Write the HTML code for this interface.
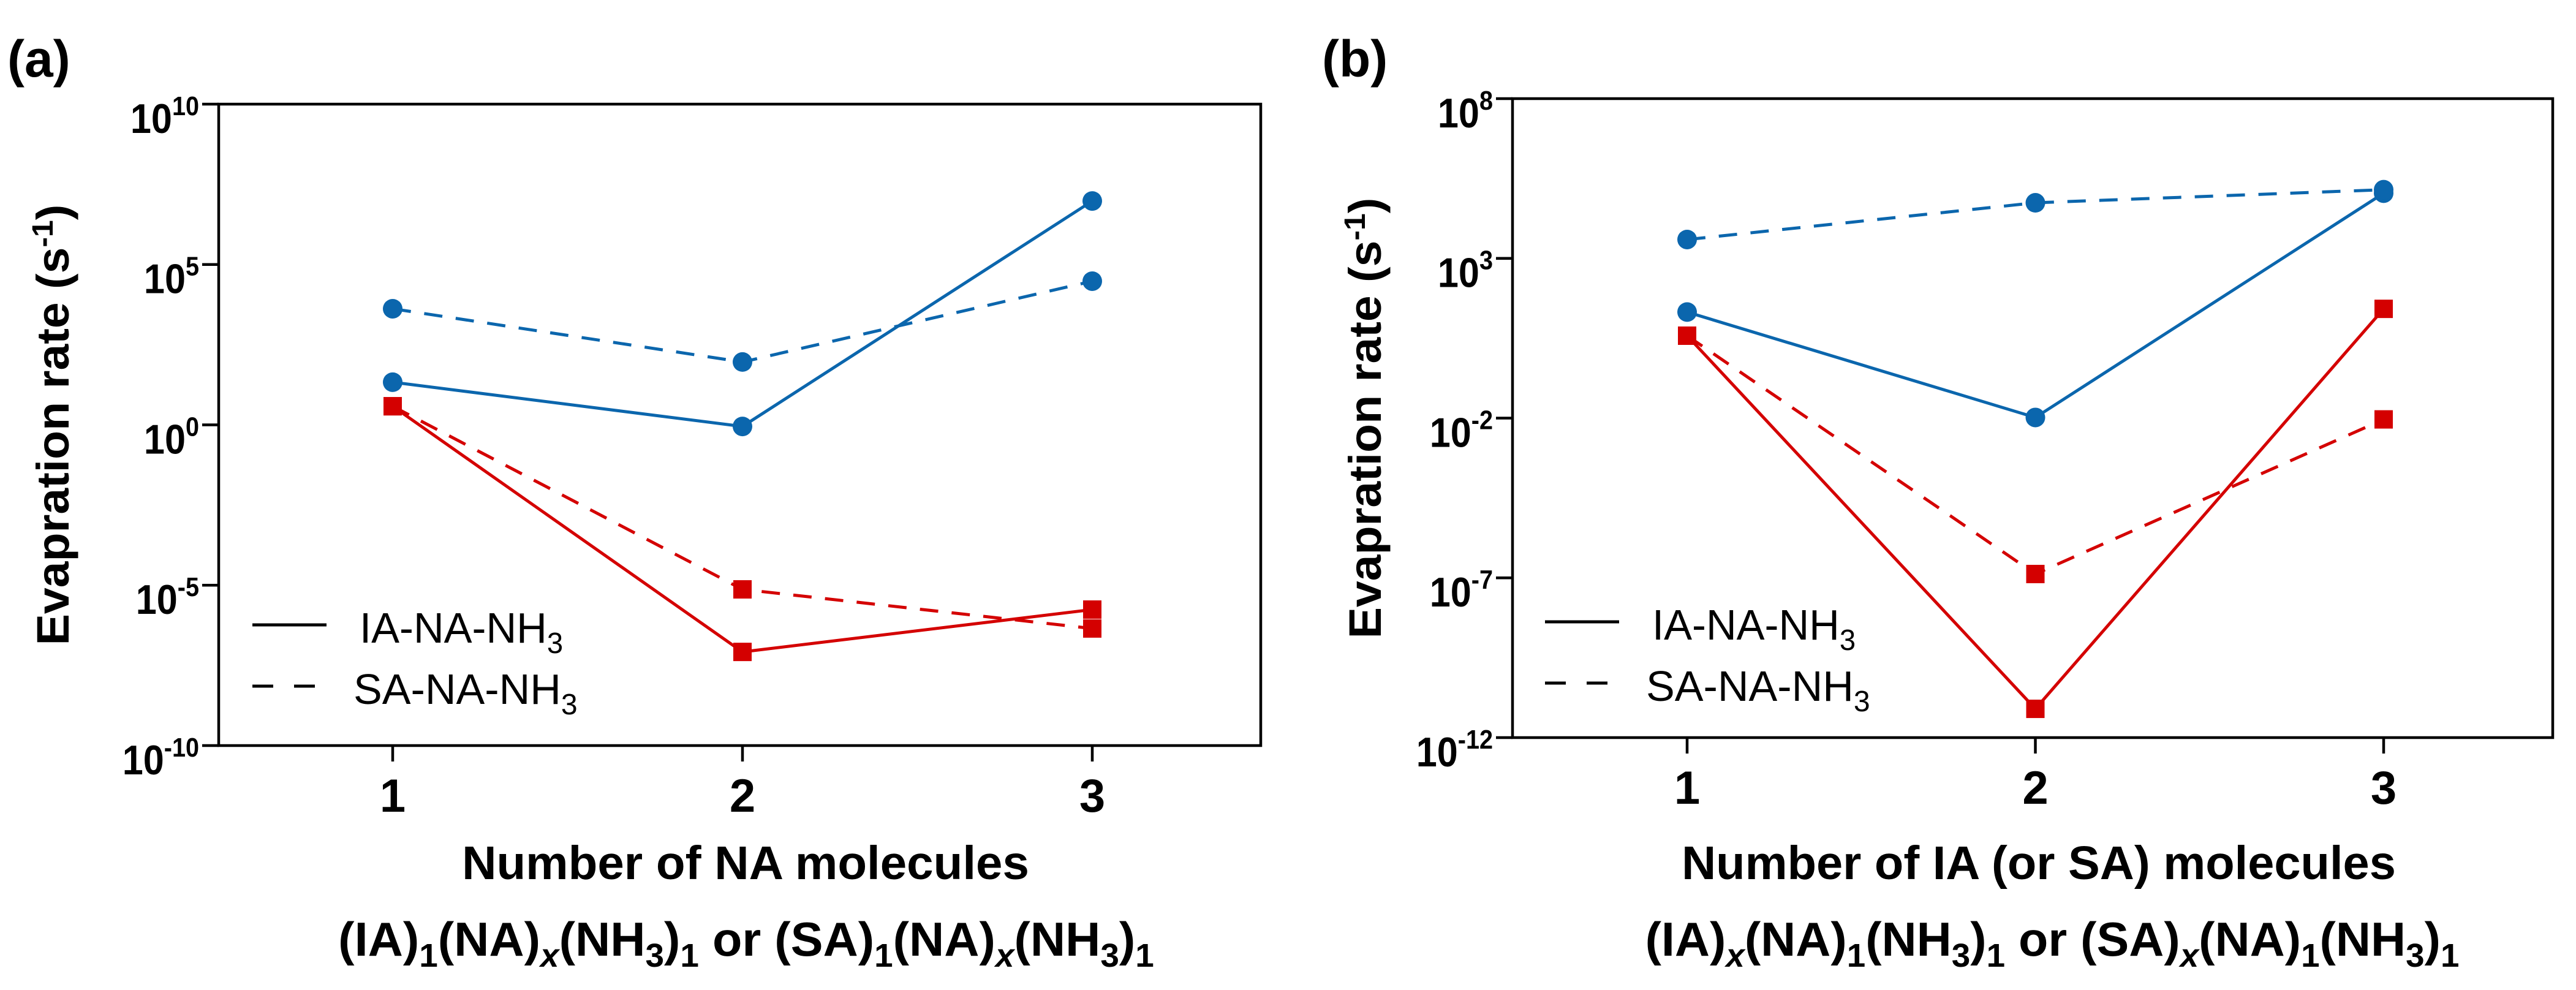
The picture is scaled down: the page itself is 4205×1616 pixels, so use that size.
<!DOCTYPE html>
<html><head><meta charset="utf-8"><style>
html,body{margin:0;padding:0;background:#fff;}
svg{display:block;font-family:"Liberation Sans",Arial,sans-serif;}
</style></head><body>
<svg id="fig" width="4205" height="1616" viewBox="0 0 4205 1616" xmlns="http://www.w3.org/2000/svg"></svg>
<script>
// ---- data ----
const categories = [1, 2, 3];
const aIA_NA = [1.33, -0.05, 6.98];      // log10 values, panel a blue solid
const aSA_NA = [3.62, 1.96, 4.48];       // panel a blue dashed
const aIA_NH3 = [0.58, -7.08, -5.76];    // panel a red solid
const aSA_NH3 = [0.58, -5.13, -6.35];    // panel a red dashed
const bIA_NA = [1.32, -1.98, 5.04];
const bSA_NA = [3.59, 4.74, 5.15];
const bIA_NH3 = [0.58, -11.1, 1.42];
const bSA_NH3 = [0.58, -6.88, -2.04];
const aTicks = [10, 5, 0, -5, -10];
const bTicks = [8, 3, -2, -7, -12];

const NS = "http://www.w3.org/2000/svg";
const svg = document.getElementById('fig');
function el(tag, attrs, parent, text) {
  const e = document.createElementNS(NS, tag);
  for (const k in attrs) e.setAttribute(k, attrs[k]);
  if (text !== undefined) e.textContent = text;
  (parent || svg).appendChild(e);
  return e;
}
// horizontally fit a text element to a target width centred/anchored at ax
function fitX(t, target, ax) {
  const w = t.getBBox().width;
  if (!w) return;
  const s = target / w;
  const prev = t.getAttribute('transform') || '';
  t.setAttribute('transform', `translate(${ax},0) scale(${s},1) translate(${-ax},0) ` + prev);
}
function fitY(t, target, ay) {
  const h = t.getBBox().width;
  if (!h) return;
  const s = target / h;
  const prev = t.getAttribute('transform') || '';
  t.setAttribute('transform', `translate(0,${ay}) scale(1,${s}) translate(0,${-ay}) ` + prev);
}
const BLUE = "#0b66ad", RED = "#d40000";

function panel(cfg) {
  const g = el('g', {});
  
  
  const xs = v => cfg.x1 + (v - 1) * cfg.dx;
  const ys = v => cfg.top + (cfg.ymax - v) * (cfg.bottom - cfg.top) / (cfg.ymax - cfg.ymin);
  const fr = el('rect', {x: cfg.left, y: cfg.top, width: cfg.right - cfg.left, height: cfg.bottom - cfg.top, fill: 'none', stroke: '#000', 'stroke-width': 4.5}, g);
  
  
  cfg.ticks.forEach(t => {
    const y = ys(t);
    el('line', {x1: cfg.left - 27, x2: cfg.left, y1: y, y2: y, stroke: '#000', 'stroke-width': 4.5}, g);
    const tx = el('text', {x: cfg.left - 32, y: y + 47, 'text-anchor': 'end', 'font-size': 68, 'font-weight': 'bold'}, g);
    
    
    el('tspan', {}, tx, '10');
    el('tspan', {dy: -29, 'font-size': 44}, tx, String(t));
    fitX(tx, tx.getBBox().width * 0.9, cfg.left - 32);
  });
  categories.forEach(c => {
    const x = xs(c);
    el('line', {x1: x, x2: x, y1: cfg.bottom, y2: cfg.bottom + 26, stroke: '#000', 'stroke-width': 4.5}, g);
    const tx = el('text', {x: x, y: cfg.bottom + 108, 'text-anchor': 'middle', 'font-size': 76, 'font-weight': 'bold'}, g, String(c));
    
    
  });
  cfg.series.forEach(s => {
    const pts = categories.map((c, i) => xs(c) + ',' + ys(s.vals[i])).join(' ');
    const pl = el('polyline', {points: pts, fill: 'none', stroke: s.color, 'stroke-width': 5, 'stroke-dasharray': s.dash ? '30,22' : 'none'}, g);
    
    
    categories.forEach((c, i) => {
      const x = xs(c), y = ys(s.vals[i]);
      let m;
      if (s.marker === 'circle') m = el('circle', {cx: x, cy: y, r: 16, fill: s.color}, g);
      else m = el('rect', {x: x - 15, y: y - 15, width: 30, height: 30, fill: s.color}, g);
      
      
    });
  });
  const lg = el('g', {}, g);
  
  
  [['IA-NA-NH', false, cfg.legY, 175, 306], ['SA-NA-NH', true, cfg.legY + 100, 165, 339]].forEach(([lab, dash, y, off, wid]) => {
    el('line', {x1: cfg.legX, x2: cfg.legX + 121, y1: y, y2: y, stroke: '#000', 'stroke-width': 5, 'stroke-dasharray': dash ? '34,34' : 'none'}, lg);
    const t = el('text', {x: cfg.legX + off, y: y + 29, 'font-size': 70}, lg);
    
    
    el('tspan', {}, t, lab);
    const w0 = t.getBBox().width;
    el('tspan', {dy: 17, 'font-size': 48}, t, '3');
    const s = wid / w0;
    const ax = cfg.legX + off;
    t.setAttribute('transform', `translate(${ax},0) scale(${s},1) translate(${-ax},0)`);
  });
  const pl = el('text', {x: cfg.labX, y: 125, 'font-size': 84, 'font-weight': 'bold'}, g, cfg.label);
  
  
  const cy = (cfg.top + cfg.bottom) / 2;
  const yt = el('text', {x: 0, y: 0, transform: `translate(${cfg.ytX},${cy}) rotate(-90)`, 'text-anchor': 'middle', 'font-size': 74, 'font-weight': 'bold'}, g);
  
  
  el('tspan', {}, yt, 'Evapration rate (s');
  el('tspan', {dy: -26, 'font-size': 48}, yt, '-1');
  el('tspan', {dy: 26}, yt, ')');
  {
    const len = yt.getBBox().width;
    const s = cfg.ytLen / len;
    yt.setAttribute('transform', `translate(${cfg.ytX},${cy}) rotate(-90) scale(${s},1)`);
  }
  const xt = el('text', {x: cfg.xtC, y: 1435, 'text-anchor': 'middle', 'font-size': 77, 'font-weight': 'bold'}, g, cfg.xtitle);
  
  
  fitX(xt, cfg.xtW, cfg.xtC);
  const ft = el('text', {x: cfg.fC, y: 1560, 'text-anchor': 'middle', 'font-size': 78, 'font-weight': 'bold'}, g);
  
  
  let down = false;
  cfg.formula.forEach(([txt, kind]) => {
    const sub = kind === 'sub' || kind === 'subi';
    const attrs = {};
    if (sub && !down) { attrs.dy = 18; down = true; }
    if (!sub && down) { attrs.dy = -18; down = false; }
    if (sub) attrs['font-size'] = 54;
    if (kind === 'subi') attrs['font-style'] = 'italic';
    el('tspan', attrs, ft, txt);
  });
  fitX(ft, cfg.fW, cfg.fC);
}

const fa = [['(IA)', 'n'], ['1', 'sub'], ['(NA)', 'n'], ['x', 'subi'], ['(NH', 'n'], ['3', 'sub'], [')', 'n'], ['1', 'sub'], [' or (SA)', 'n'], ['1', 'sub'], ['(NA)', 'n'], ['x', 'subi'], ['(NH', 'n'], ['3', 'sub'], [')', 'n'], ['1', 'sub']];
const fb = [['(IA)', 'n'], ['x', 'subi'], ['(NA)', 'n'], ['1', 'sub'], ['(NH', 'n'], ['3', 'sub'], [')', 'n'], ['1', 'sub'], [' or (SA)', 'n'], ['x', 'subi'], ['(NA)', 'n'], ['1', 'sub'], ['(NH', 'n'], ['3', 'sub'], [')', 'n'], ['1', 'sub']];

panel({name: 'panel-a', label: '(a)', labX: 12, left: 357, right: 2058, top: 170, bottom: 1217, x1: 641, dx: 571,
  ymax: 10, ymin: -10, ticks: aTicks, legX: 412, legY: 1020, ytX: 112, ytLen: 720,
  xtitle: 'Number of NA molecules', xtC: 1217, xtW: 926, formula: fa, fC: 1218, fW: 1332,
  series: [
    {name: 'ia-blue', vals: aIA_NA, color: BLUE, dash: false, marker: 'circle'},
    {name: 'sa-blue', vals: aSA_NA, color: BLUE, dash: true, marker: 'circle'},
    {name: 'ia-red', vals: aIA_NH3, color: RED, dash: false, marker: 'square'},
    {name: 'sa-red', vals: aSA_NH3, color: RED, dash: true, marker: 'square'}]});
panel({name: 'panel-b', label: '(b)', labX: 2158, left: 2469, right: 4167, top: 161, bottom: 1204, x1: 2754, dx: 568.5,
  ymax: 8, ymin: -12, ticks: bTicks, legX: 2522, legY: 1015, ytX: 2254, ytLen: 720,
  xtitle: 'Number of IA (or SA) molecules', xtC: 3328, xtW: 1166, formula: fb, fC: 3350, fW: 1329,
  series: [
    {name: 'ia-blue', vals: bIA_NA, color: BLUE, dash: false, marker: 'circle'},
    {name: 'sa-blue', vals: bSA_NA, color: BLUE, dash: true, marker: 'circle'},
    {name: 'ia-red', vals: bIA_NH3, color: RED, dash: false, marker: 'square'},
    {name: 'sa-red', vals: bSA_NH3, color: RED, dash: true, marker: 'square'}]});
</script>
</body></html>
